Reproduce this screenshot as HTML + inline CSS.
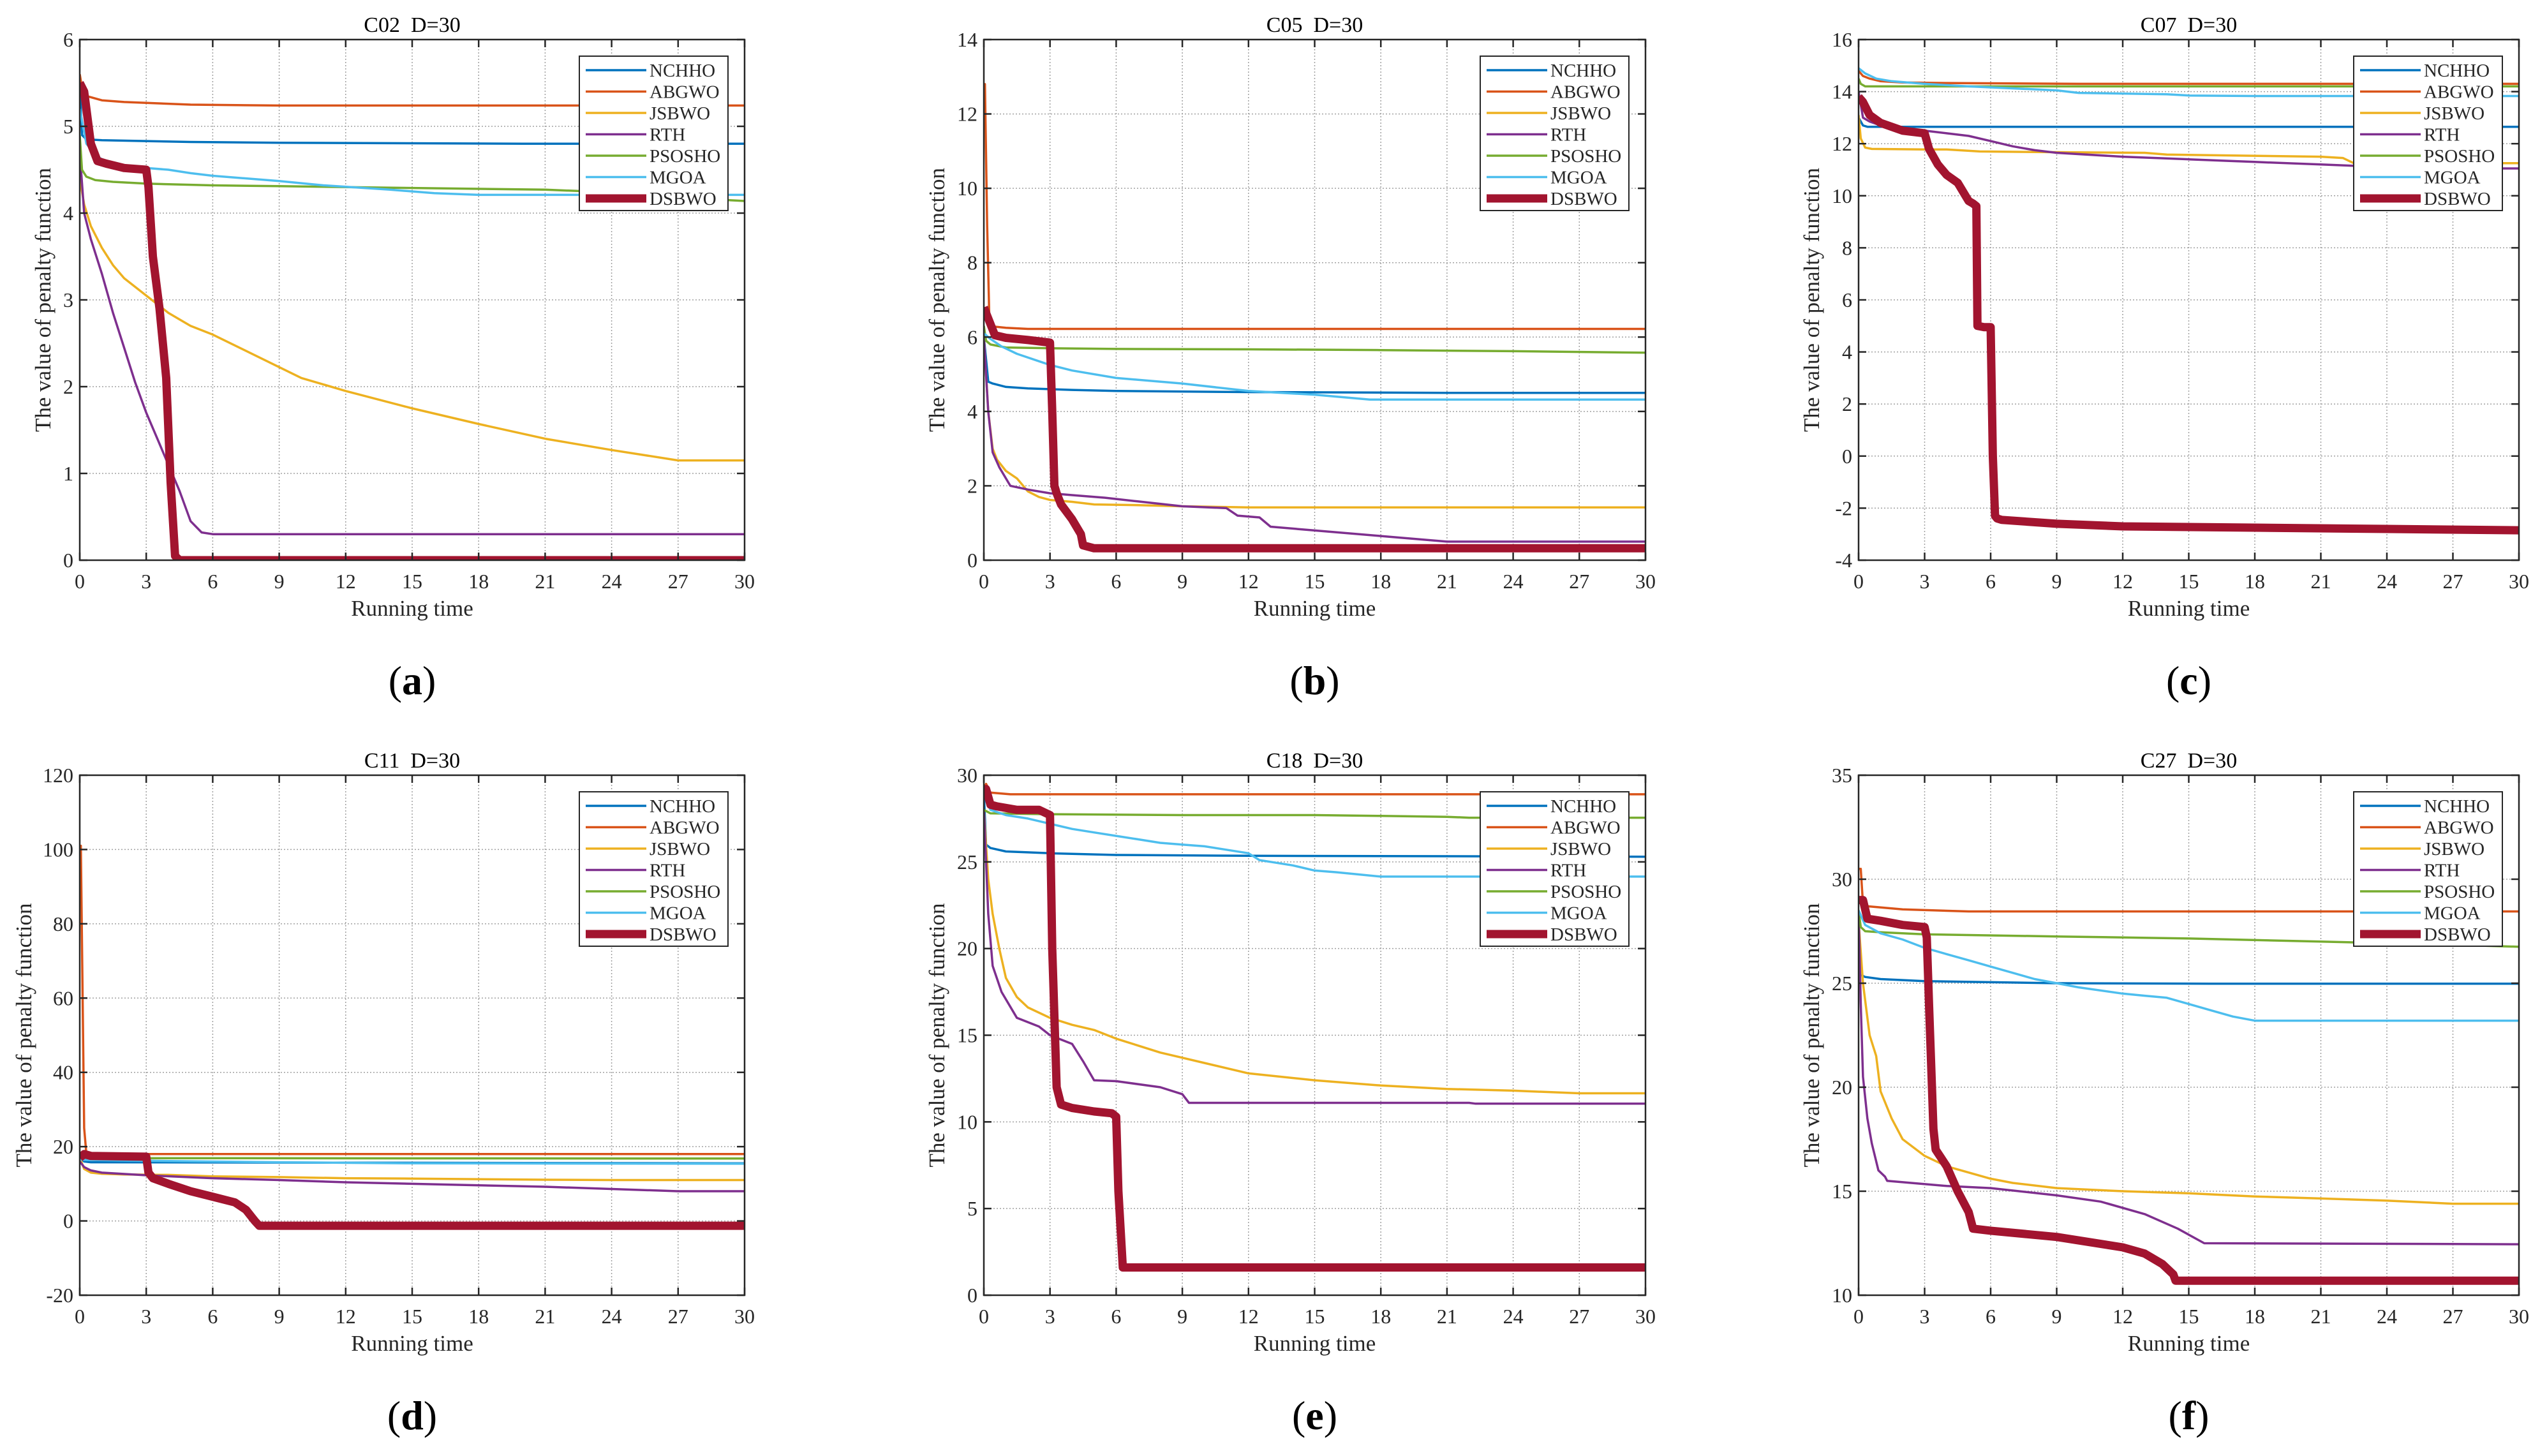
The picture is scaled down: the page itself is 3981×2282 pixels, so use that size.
<!DOCTYPE html>
<html><head><meta charset="utf-8"><style>
html,body{margin:0;padding:0;background:#fff;}
svg{display:block;font-family:"Liberation Serif",serif;}
</style></head><body>
<svg id="fig" width="3981" height="2282" viewBox="0 0 3981 2282" xmlns="http://www.w3.org/2000/svg"></svg>
<script>
const seriesNames = ["NCHHO","ABGWO","JSBWO","RTH","PSOSHO","MGOA","DSBWO"];
const seriesColors = ["#0072BD","#D95319","#EDB120","#7E2F8E","#77AC30","#4DBEEE","#A2142F"];
const xTicks = [0,3,6,9,12,15,18,21,24,27,30];
const panelTitles = ["C02\u00a0 D=30","C05\u00a0 D=30","C07\u00a0 D=30","C11\u00a0 D=30","C18\u00a0 D=30","C27\u00a0 D=30"];
const panelLetters = ["a","b","c","d","e","f"];
const yTicksA = [0,1,2,3,4,5,6];
const yTicksB = [0,2,4,6,8,10,12,14];
const yTicksC = [-4,-2,0,2,4,6,8,10,12,14,16];
const yTicksD = [-20,0,20,40,60,80,100,120];
const yTicksE = [0,5,10,15,20,25,30];
const yTicksF = [10,15,20,25,30,35];

// Panel a
const aT = [[0,0.1,0.3,1,3,5,9,20,30],[0,0.1,0.3,1,2,5,9,30],[0,0.2,0.5,1,1.5,2,3,4,5,6,8,10,12,15,18,21,24,27,30],[0,0.2,0.5,1,1.5,2,2.5,3,3.5,4,4.5,5,5.5,6,30],[0,0.1,0.3,0.7,1.5,3,6,9,12,15,21,24,27,30],[0,0.3,0.8,1.3,2,3,4,5,6,9,11,14,16,18,30],[0,0.2,0.5,0.8,1.2,2,3,3.1,3.3,3.6,3.9,4.1,4.3,4.5,30]];
const aY = [[5.5,4.9,4.85,4.84,4.83,4.82,4.81,4.8,4.8],[5.6,5.45,5.35,5.3,5.28,5.25,5.24,5.24],[4.4,4.1,3.85,3.6,3.4,3.25,3.05,2.85,2.7,2.6,2.35,2.1,1.95,1.75,1.57,1.4,1.27,1.15,1.15],[4.7,4.0,3.7,3.3,2.85,2.45,2.05,1.7,1.4,1.1,0.8,0.45,0.32,0.3,0.3],[4.9,4.5,4.42,4.38,4.36,4.34,4.32,4.31,4.3,4.29,4.27,4.24,4.18,4.14],[5.2,4.8,4.65,4.58,4.55,4.52,4.5,4.46,4.43,4.37,4.32,4.27,4.23,4.21,4.21],[5.5,5.4,4.8,4.6,4.57,4.52,4.5,4.3,3.5,2.9,2.1,0.9,0.05,0,0]];
// Panel b
const bT = [[0,0.1,0.2,0.4,1,2,4,6,12,21,30],[0,0.05,0.15,0.25,0.35,0.5,1,2,30],[0,0.2,0.4,0.6,1,1.5,2,2.5,3,4,5,7,9,12,30],[0,0.2,0.4,0.7,1.2,2,3,4,5.5,7,9,11,11.5,12.5,13,15,18,21,30],[0,0.1,0.3,1,3,6,12,18,24,30],[0,0.3,0.8,1.5,2.5,3,4,6,9,12,15,17.5,30],[0,0.2,0.5,1,2,3,3.1,3.2,3.3,3.5,4,4.4,4.5,5,30]];
const bY = [[6,5.4,4.8,4.75,4.66,4.62,4.58,4.55,4.52,4.5,4.5],[12.8,12.8,9,6.5,6.3,6.28,6.25,6.22,6.22],[6,4,3,2.7,2.4,2.2,1.85,1.7,1.62,1.57,1.5,1.48,1.45,1.42,1.42],[6,4,2.9,2.5,2,1.9,1.8,1.75,1.68,1.58,1.45,1.4,1.2,1.15,0.9,0.8,0.65,0.5,0.5],[6.3,5.9,5.8,5.72,5.7,5.68,5.67,5.65,5.62,5.58],[6.1,5.95,5.75,5.55,5.35,5.25,5.1,4.9,4.75,4.55,4.45,4.32,4.32],[6.8,6.5,6.05,5.98,5.92,5.85,4,2,1.8,1.5,1.1,0.7,0.4,0.32,0.32]];
// Panel c
const cT = [[0,0.2,0.4,30],[0,0.2,0.5,1,2,4,10,30],[0,0.1,0.3,0.6,3,4,5.5,8,13,14,21,22,22.5,30],[0,0.2,0.5,1,2,3,4,5,6,7,8,9,12,15,18,21,24,27,30],[0,0.1,0.3,30],[0,0.3,0.8,1.5,3,5,9,10,14,15,18,30],[0,0.2,0.5,1,2,3,3.2,3.6,4,4.5,5,5.2,5.35,5.4,5.7,6,6.1,6.2,6.3,6.5,9,12,18,24,30]];
const cY = [[13,12.7,12.65,12.65],[14.8,14.6,14.5,14.4,14.35,14.33,14.3,14.3],[13.1,12.2,11.85,11.8,11.78,11.78,11.7,11.68,11.65,11.58,11.5,11.45,11.25,11.25],[14,13,12.85,12.7,12.6,12.5,12.4,12.3,12.1,11.9,11.75,11.65,11.5,11.4,11.3,11.2,11.1,11.05,11.05],[14.5,14.3,14.2,14.2],[14.9,14.7,14.5,14.4,14.3,14.2,14.05,13.95,13.9,13.85,13.83,13.83],[13.8,13.6,13.1,12.8,12.5,12.4,11.8,11.2,10.8,10.5,9.8,9.7,9.6,5,4.95,4.95,0,-2.3,-2.4,-2.45,-2.6,-2.7,-2.75,-2.8,-2.85]];
// Panel d
const dT = [[0,0.2,0.5,30],[0,0.05,0.15,0.2,0.3,0.4,30],[0,0.2,0.5,1,2,4,6,9,12,15,21,24,30],[0,0.2,0.5,1,3,6,9,12,15,21,27,30],[0,0.3,3,30],[0,0.5,3,9,15,30],[0,0.2,0.5,3,3.1,3.3,4,5,6,7,7.5,7.9,8.1,30]];
const dY = [[17,16,15.8,15.5],[101,101,50,25,18,18,18],[17,14,13,12.7,12.5,12.4,12,11.8,11.5,11.4,11.1,11,11],[16,14.5,13.6,13,12.3,11.5,11,10.4,10,9.2,8,8],[17,17,16.9,16.8],[16.5,16.4,16.2,15.8,15.5,15.4],[17,18,17.5,17.3,13,11.5,10,8,6.5,5,3,0,-1.3,-1.3]];
// Panel e
const eT = [[0,0.1,0.3,1,3,6,12,30],[0,0.1,0.3,1.2,30],[0,0.2,0.4,0.7,1,1.5,2,3,4,5,6,7,8,9,10,12,15,18,21,24,27,30],[0,0.1,0.2,0.4,0.8,1.5,2.5,3,4,4.5,5,6,8,9,9.3,22,22.3,30],[0,0.3,3,9,15,18,21,22,30],[0,0.3,1,2,3,4,5,6,7,8,9,10,11,12,12.5,13,14,15,16,18,30],[0,0.1,0.3,0.6,1.5,2.5,3,3.1,3.3,3.5,4,5,5.8,6,6.1,6.3,30]];
const eY = [[29,26,25.8,25.6,25.5,25.4,25.35,25.3],[29.3,29.5,29,28.9,28.9],[28,24,22,20,18.3,17.2,16.6,16,15.6,15.3,14.8,14.4,14,13.7,13.4,12.8,12.4,12.1,11.9,11.8,11.65,11.65],[28,25,22,19,17.5,16,15.5,15,14.5,13.5,12.4,12.35,12,11.6,11.1,11.1,11.05,11.05],[28,27.8,27.75,27.7,27.7,27.65,27.6,27.55,27.55],[29,28,27.7,27.5,27.2,26.9,26.7,26.5,26.3,26.1,26.0,25.9,25.7,25.5,25.1,25.0,24.8,24.5,24.4,24.15,24.15],[29,29.2,28.3,28.2,28,28,27.7,20,12,11,10.8,10.6,10.5,10.3,6,1.6,1.6]];
// Panel f
const fT = [[0,0.1,0.3,1,3,6,9,16,30],[0,0.1,0.2,0.4,2,5,30],[0,0.2,0.5,0.8,1,1.5,2,3,4,5,6,7,9,12,15,18,21,24,27,30],[0,0.1,0.2,0.4,0.6,0.9,1.2,1.3,4,6,9,11,13,14.5,15.7,30],[0,0.1,0.3,1,3,9,15,21,27,30],[0,0.3,1,2,3,4,5,6,7,8,9,10,12,13,14,15,16,17,18,30],[0,0.2,0.4,1,2,3,3.1,3.2,3.4,3.5,4,4.5,5,5.2,6,9,12,13,13.8,14.3,14.4,30]];
const fY = [[25.5,25.4,25.3,25.2,25.1,25.05,25,24.98,24.98],[30.5,30.5,28.8,28.7,28.55,28.45,28.45],[28,25,22.5,21.5,19.8,18.5,17.5,16.7,16.2,15.9,15.6,15.4,15.15,15,14.9,14.75,14.65,14.55,14.4,14.4],[28.5,24,20.5,18.5,17.3,16,15.7,15.5,15.25,15.15,14.8,14.5,13.9,13.2,12.5,12.45],[28.5,27.7,27.5,27.45,27.35,27.25,27.15,27.0,26.85,26.75],[28.5,27.8,27.4,27.1,26.7,26.4,26.1,25.8,25.5,25.2,25,24.8,24.5,24.4,24.3,24,23.7,23.4,23.2,23.2],[29,29,28.1,28,27.8,27.7,27.2,24,18,17,16.2,15,14,13.2,13.1,12.8,12.3,12,11.5,11,10.7,10.7]];

const NS = "http://www.w3.org/2000/svg";
const svg = document.getElementById("fig");
function mk(tag, attrs, parent){const e=document.createElementNS(NS,tag);for(const k in attrs)e.setAttribute(k,attrs[k]);(parent||svg).appendChild(e);return e;}

const panels = [
 {L:125,W:1042,T:62,H:816,ticks:yTicksA,ts:aT,ys:aY},
 {L:1542,W:1037,T:62,H:816,ticks:yTicksB,ts:bT,ys:bY},
 {L:2913,W:1035,T:62,H:816,ticks:yTicksC,ts:cT,ys:cY},
 {L:125,W:1042,T:1215,H:815,ticks:yTicksD,ts:dT,ys:dY},
 {L:1542,W:1037,T:1215,H:815,ticks:yTicksE,ts:eT,ys:eY},
 {L:2913,W:1035,T:1215,H:815,ticks:yTicksF,ts:fT,ys:fY}
];

panels.forEach((p,pi)=>{
  const g = mk("g",{});
  
  
  const ymin=p.ticks[0], ymax=p.ticks[p.ticks.length-1];
  const sx = t => p.L + (t-0)/(30-0)*p.W;
  const sy = v => p.T + p.H - (v-ymin)/(ymax-ymin)*p.H;
  xTicks.forEach(t=>{
    if(t>0&&t<30){const l=mk("line",{x1:sx(t),x2:sx(t),y1:p.T,y2:p.T+p.H,stroke:"#a0a0a0","stroke-width":1.5,"stroke-dasharray":"2,3"},g);
    
    }
  });
  p.ticks.forEach(v=>{
    if(v>ymin&&v<ymax){const l=mk("line",{x1:p.L,x2:p.L+p.W,y1:sy(v),y2:sy(v),stroke:"#a0a0a0","stroke-width":1.5,"stroke-dasharray":"2,3"},g);
    
    }
  });
  const clip = mk("clipPath",{id:"clip"+pi},g);
  mk("rect",{x:p.L,y:p.T-4,width:p.W,height:p.H+4},clip);
  p.ts.forEach((ts,si)=>{
    const pts = ts.map((t,i)=>sx(t).toFixed(1)+","+sy(p.ys[si][i]).toFixed(1)).join(" ");
    const pl = mk("polyline",{points:pts,fill:"none",stroke:seriesColors[si],"stroke-width":si===6?13:3.5,"stroke-linejoin":"round","clip-path":"url(#clip"+pi+")"},g);
    
    
  });
  xTicks.forEach(t=>{
    mk("line",{x1:sx(t),x2:sx(t),y1:p.T+p.H,y2:p.T+p.H-12,stroke:"#262626","stroke-width":2.5},g);
    mk("line",{x1:sx(t),x2:sx(t),y1:p.T,y2:p.T+12,stroke:"#262626","stroke-width":2.5},g);
    const tx = mk("text",{x:sx(t),y:p.T+p.H+44,"font-size":32,"text-anchor":"middle",fill:"#262626"},g);
    tx.textContent=t;
    
    
  });
  let maxLen=0;
  p.ticks.forEach(v=>{
    mk("line",{x1:p.L,x2:p.L+12,y1:sy(v),y2:sy(v),stroke:"#262626","stroke-width":2.5},g);
    mk("line",{x1:p.L+p.W,x2:p.L+p.W-12,y1:sy(v),y2:sy(v),stroke:"#262626","stroke-width":2.5},g);
    const tx = mk("text",{x:p.L-10,y:sy(v)+11,"font-size":32,"text-anchor":"end",fill:"#262626"},g);
    tx.textContent=v;
    
    
    maxLen=Math.max(maxLen,String(v).length);
  });
  const box = mk("rect",{x:p.L,y:p.T,width:p.W,height:p.H,fill:"none",stroke:"#262626","stroke-width":2.5},g);
  
  
  const ti = mk("text",{x:p.L+p.W/2,y:p.T-12,"font-size":34,"text-anchor":"middle",fill:"#000"},g);
  ti.textContent=panelTitles[pi];
  
  
  const xl = mk("text",{x:p.L+p.W/2,y:p.T+p.H+87,"font-size":35,"text-anchor":"middle",fill:"#262626"},g);
  xl.textContent="Running time";
  
  
  const off = maxLen===1?58:(maxLen===2?74:88);
  const yx = p.L-off, yc = p.T+p.H/2;
  const yl = mk("text",{x:yx,y:yc,"font-size":35,"text-anchor":"middle",fill:"#262626",transform:"rotate(-90 "+yx+" "+yc+")",dy:12},g);
  yl.textContent="The value of penalty function";
  
  
  const pl2 = mk("text",{x:p.L+p.W/2,y:p.T+p.H+210,"font-size":64,"text-anchor":"middle",fill:"#000"},g);
  pl2.innerHTML='(<tspan font-weight="bold">'+panelLetters[pi]+'</tspan>)';
  
  
  const lx = p.L+p.W-259, ly = p.T+26;
  const lg = mk("g",{},g);
  
  
  mk("rect",{x:lx,y:ly,width:233,height:242,fill:"#fff",stroke:"#262626","stroke-width":2},lg);
  seriesNames.forEach((n,si)=>{
    const cy = ly+22+si*33.5;
    const e = mk("g",{},lg);
    
    
    mk("line",{x1:lx+10,x2:lx+105,y1:cy,y2:cy,stroke:seriesColors[si],"stroke-width":si===6?13:3.5},e);
    const t = mk("text",{x:lx+110,y:cy+10,"font-size":29,fill:"#262626"},e);
    t.textContent=n;
  });
});
</script>
</body></html>
